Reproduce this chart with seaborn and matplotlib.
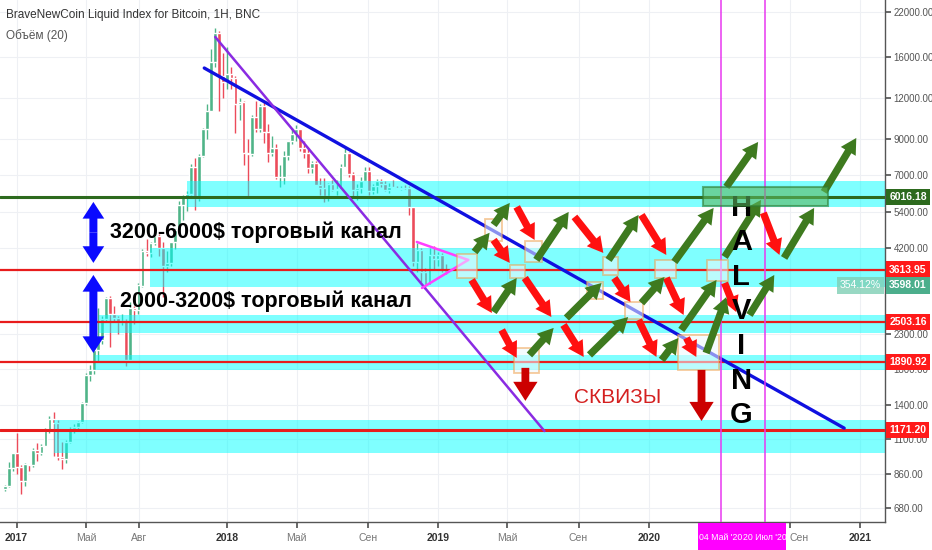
import numpy as np
import pandas as pd
import matplotlib
matplotlib.use("Agg")
import matplotlib.pyplot as plt
import matplotlib.dates as mdates
from matplotlib.patches import Rectangle
from matplotlib.ticker import FixedLocator, NullLocator
import seaborn as sns

sns.set_theme(style="white")
plt.rcParams['font.family'] = ['Liberation Sans', 'DejaVu Sans']

# weekly candles of the BNC index
week_start = pd.date_range('2016-12-12', '2019-01-14', freq='W-MON')
first_open = 774
closes = [790, 896, 998, 905, 820, 920, 915, 1020, 995, 1050,
          1175, 1270, 1230, 970, 960, 1080, 1180, 1200, 1240, 1420,
          1720, 1780, 2050, 2200, 2550, 2950, 2650, 2580, 2500, 2510,
          1920, 2750, 2730, 3230, 4100, 4050, 4350, 4580, 4200, 3700,
          3780, 4390, 4770, 5700, 6000, 6150, 7400, 5950, 8000, 9700,
          11000, 15500, 19000, 14000, 13500, 14200, 13800, 11500, 11700, 8200,
          8100, 10500, 9650, 11400, 9500, 8200, 8500, 6900, 6900, 8000,
          8900, 9350, 9650, 8500, 8200, 7350, 7650, 6550, 6400, 6050,
          6600, 6300, 6350, 7400, 8200, 7050, 6300, 6400, 6700, 7200,
          6250, 6500, 6700, 6600, 6300, 6450, 6400, 6350, 6400, 6380,
          5600, 3800, 4150, 3550, 3250, 4000, 3900, 4000, 3600, 3550]
highs = [795, 935, 1000, 1150, 915, 930, 925, 1030, 1070, 1060,
         1190, 1290, 1330, 1260, 1080, 1090, 1200, 1220, 1250, 1430,
         1750, 1850, 2100, 2760, 2600, 2980, 3000, 2800, 2600, 2650,
         2560, 2880, 2800, 3280, 4180, 4480, 4390, 4980, 4650, 4380,
         4120, 4390, 4800, 5850, 6100, 6250, 7600, 7880, 8100, 9750,
         11500, 17000, 19700, 19300, 16500, 17200, 15000, 14000, 12000, 11800,
         9000, 10700, 11800, 11500, 11700, 10000, 9200, 8700, 7500, 8300,
         8900, 9750, 9950, 9700, 8900, 8500, 7750, 7750, 6850, 6850,
         6650, 6750, 6750, 7600, 8450, 8250, 7150, 6600, 6900, 7400,
         7400, 6600, 6800, 6800, 6700, 6650, 6750, 6500, 6500, 6550,
         6500, 5600, 4350, 4200, 3650, 4200, 4250, 4100, 4050, 3750]
lows = [765, 788, 880, 860, 750, 790, 880, 905, 945, 985,
        1045, 1150, 980, 950, 890, 930, 1070, 1150, 1180, 1230,
        1400, 1650, 1740, 1900, 2150, 2500, 2100, 2500, 2300, 2450,
        1840, 1900, 2460, 2650, 3200, 3980, 3950, 4300, 3980, 2970,
        3550, 3700, 4170, 4770, 5100, 5450, 6100, 5500, 5850, 7950,
        9000, 11000, 15000, 11000, 12000, 12800, 12800, 9400, 10300, 7500,
        6000, 8000, 9500, 9500, 8800, 7700, 8000, 6800, 6450, 6600,
        7800, 8700, 8900, 8300, 7900, 7100, 7100, 6550, 6100, 5800,
        5850, 6250, 6100, 6350, 7400, 6900, 6000, 5900, 6200, 6700,
        6100, 6150, 6200, 6450, 6250, 6200, 6400, 6350, 6300, 6350,
        5300, 3700, 3550, 3300, 3150, 3250, 3600, 3700, 3550, 3500]

# horizontal levels
levels = [6016.18, 3613.95, 2503.16, 1890.92, 1171.20]
level_colors = ['#2d6a1e', '#e81c1c', '#e81c1c', '#e81c1c', '#e81c1c']

# cyan zones
zone_start = ['2017-10-23', '2017-08-20', '2017-05-24', '2017-05-17', '2017-03-07']
zone_low = [5600, 3200, 2316, 1786, 998]
zone_high = [6720, 4200, 2628, 1985, 1259]

# trend lines
blue_dates, blue_prices = ['2017-11-22', '2020-12-04'], [14850, 1188]
purple_dates, purple_prices = ['2017-12-11', '2019-07-04'], [18460, 1164]
pink_up_dates, pink_up_prices = ['2018-11-25', '2019-02-22'], [4385, 3865]
pink_lo_dates, pink_lo_prices = ['2018-12-04', '2019-02-22'], [3175, 3865]

# orange boxes
box_x0 = ['2019-02-02', '2019-03-23', '2019-05-05', '2019-05-31', '2019-05-12', '2019-09-15',
          '2019-10-13', '2019-11-21', '2020-01-12', '2020-02-21', '2020-04-11']
box_x1 = ['2019-03-10', '2019-04-21', '2019-06-01', '2019-06-29', '2019-06-24', '2019-10-13',
          '2019-11-09', '2019-12-21', '2020-02-16', '2020-05-02', '2020-05-16']
box_low = [3406, 4416, 3406, 3811, 1750, 2938, 3478, 2554, 3406, 1787, 3335]
box_high = [4030, 5154, 3732, 4416, 2084, 3312, 3947, 2878, 3865, 2284, 3865]
target_dates, target_prices = ['2020-04-04', '2020-11-06'], [5645, 6448]

# arrows: (from date, from price, to date, to price)
red_arrows = [('2019-02-28', 3359, '2019-04-04', 2664), ('2019-04-07', 4447, '2019-05-05', 3785),
              ('2019-05-17', 5606, '2019-06-17', 4447), ('2019-05-31', 3406, '2019-07-16', 2590),
              ('2019-04-21', 2365, '2019-05-17', 1944), ('2019-08-06', 2450, '2019-09-10', 1957),
              ('2019-08-25', 5227, '2019-10-14', 4059), ('2019-11-02', 3406, '2019-11-30', 2878),
              ('2019-12-19', 5300, '2020-01-31', 4002), ('2019-12-14', 2537, '2020-01-14', 1957),
              ('2020-01-31', 3406, '2020-03-01', 2627), ('2020-03-06', 2236, '2020-03-23', 1957),
              ('2020-05-11', 3289, '2020-05-31', 2682), ('2020-07-17', 5375, '2020-08-14', 4002)]
green_arrows = [('2019-03-05', 4087, '2019-03-31', 4676), ('2019-04-07', 4942, '2019-05-05', 5765),
                ('2019-04-07', 2682, '2019-05-17', 3406), ('2019-06-20', 3865, '2019-08-15', 5413),
                ('2019-06-08', 1985, '2019-07-20', 2399), ('2019-08-11', 2572, '2019-10-11', 3289),
                ('2019-09-20', 1985, '2019-11-26', 2590), ('2019-10-23', 3865, '2019-12-14', 5300),
                ('2019-12-19', 2858, '2020-01-28', 3430), ('2020-01-23', 1916, '2020-02-21', 2236),
                ('2020-02-26', 2365, '2020-04-27', 3359), ('2020-02-14', 3811, '2020-04-22', 5567),
                ('2020-04-09', 2012, '2020-05-14', 2979), ('2020-05-14', 6448, '2020-07-08', 8841),
                ('2020-05-11', 3947, '2020-07-13', 5887), ('2020-06-23', 2627, '2020-08-05', 3478),
                ('2020-08-22', 3919, '2020-10-13', 5567), ('2020-10-30', 6227, '2020-12-25', 9093)]
squeeze_arrows = [('2019-06-01', 1813, '2019-06-01', 1438), ('2020-04-01', 1787, '2020-04-01', 1249)]
channel_arrows = [('2017-05-14', 5805, 3785), ('2017-05-14', 3478, 2012)]

halving_dates = ['2020-05-04', '2020-07-20']
halving_labels = ["04 Май '20", "20 Июл '20"]

price_ticks = [680, 860, 1100, 1400, 1800, 2300, 4200, 5400, 7000, 9000, 12000, 16000, 22000]
date_ticks = ['2017-01-01', '2017-05-01', '2017-08-01', '2018-01-01', '2018-05-01', '2018-09-01',
              '2019-01-01', '2019-05-01', '2019-09-01', '2020-01-01', '2020-09-01', '2021-01-01']
date_labels = ['2017', 'Май', 'Авг', '2018', 'Май', 'Сен', '2019', 'Май', 'Сен', '2020', 'Сен', '2021']

price_tags = [6016.18, 3613.95, 3598.01, 2503.16, 1890.92, 1171.20]
tag_colors = ['#2d6a1e', '#ff1a1a', '#4cae8c', '#ff1a1a', '#ff1a1a', '#ff1a1a']
tag_shift = [0, 0, -11, 0, 0, 0]


def d(s):
    return mdates.date2num(pd.Timestamp(s))


fig = plt.figure(figsize=(9.32, 5.5), dpi=100)
ax = fig.add_axes([0, 28 / 550, 885 / 932, 522 / 550])
ax.set_yscale('log')

# candles
x = mdates.date2num(week_start)
c = np.array(closes, dtype=float)
o = np.concatenate([[first_open], c[:-1]])
up = c >= o
col = np.where(up, '#4fb488', '#ec4b5a')
ax.vlines(x, lows, highs, colors=col, lw=1.0, zorder=1)
ax.bar(x, np.abs(c - o) + 1, bottom=np.minimum(o, c), width=6.5, color=col, zorder=1)

# zones
x_end = d('2021-03-01')
for s, lo, hi in zip(zone_start, zone_low, zone_high):
    ax.add_patch(Rectangle((d(s), lo), x_end - d(s), hi - lo, fc='#00ffff', alpha=0.5, ec='none', zorder=2))

for lv, lc in zip(levels, level_colors):
    ax.axhline(lv, color=lc, lw=2.2 if lv in (6016.18, 1171.20) else 1.6, zorder=3)

# trend lines
for dd, pp, cc, w in [(blue_dates, blue_prices, '#1010e0', 2.4),
                      (purple_dates, purple_prices, '#8a2be2', 1.8),
                      (pink_up_dates, pink_up_prices, '#ff40ff', 1.8),
                      (pink_lo_dates, pink_lo_prices, '#ff40ff', 1.8)]:
    sns.lineplot(x=[d(v) for v in dd], y=pp, ax=ax, color=cc, lw=w, zorder=4)

for hd in halving_dates:
    ax.axvline(d(hd), color='#e838f0', lw=1.1, zorder=4)

# boxes
for a, b, lo, hi in zip(box_x0, box_x1, box_low, box_high):
    ax.add_patch(Rectangle((d(a), lo), d(b) - d(a), hi - lo, fc='#eef8fc', alpha=0.55,
                           ec='#f0a04b', lw=1.3, zorder=5))
ax.add_patch(Rectangle((d(target_dates[0]), target_prices[0]), d(target_dates[1]) - d(target_dates[0]),
                       target_prices[1] - target_prices[0], fc='#5cb860', alpha=0.6, ec='#2e7d32',
                       lw=1.5, zorder=7))


def arrow(x0, y0, x1, y1, color, hw=1.0, hl=0.9, tw=0.42, ms=12.5):
    ax.annotate('', xy=(x1, y1), xytext=(x0, y0),
                arrowprops=dict(arrowstyle=f'simple,head_length={hl},head_width={hw},tail_width={tw}',
                                fc=color, ec='none', mutation_scale=ms, shrinkA=0, shrinkB=0),
                zorder=6)


for a, p0, b, p1 in red_arrows:
    arrow(d(a), p0, d(b), p1, '#ff1010')
for a, p0, b, p1 in green_arrows:
    arrow(d(a), p0, d(b), p1, '#3e7a1f')
for a, p0, b, p1 in squeeze_arrows:
    arrow(d(a), p0, d(b), p1, '#cc0000', hw=1.4, hl=1.1, tw=0.45)
for a, top, bot in channel_arrows:
    mid = np.sqrt(top * bot)
    arrow(d(a), mid, d(a), top, '#0a0aff', hw=1.3, hl=1.0, tw=0.48, ms=12)
    arrow(d(a), mid, d(a), bot, '#0a0aff', hw=1.3, hl=1.0, tw=0.48, ms=12)

# texts
ax.text(d('2017-06-12'), 4510, '3200-6000$ торговый канал', fontsize=15.5, fontweight='bold',
        color='black', va='baseline', ha='left', zorder=8)
ax.text(d('2017-06-29'), 2780, '2000-3200$ торговый канал', fontsize=15.5, fontweight='bold',
        color='black', va='baseline', ha='left', zorder=8)
ax.text(d('2019-08-25'), 1418, 'СКВИЗЫ', fontsize=15, color='#d42020', va='baseline', ha='left', zorder=8)
ax.text(d('2020-06-09'), 2693, '\n'.join('HALVING'), fontsize=21, fontweight='bold', color='black',
        ha='center', va='center', linespacing=1.3, zorder=6)

ax.text(6 / 885, 1 - 15 / 522, 'BraveNewCoin Liquid Index for Bitcoin, 1H, BNC', transform=ax.transAxes,
        fontsize=8.5, color='#333333', va='center', ha='left')
ax.text(6 / 885, 1 - 36 / 522, 'Объём (20)', transform=ax.transAxes,
        fontsize=8.5, color='#555555', va='center', ha='left')

# axes
ax.set_xlim(d('2016-12-03 07:00'), d('2021-02-12 17:00'))
ax.set_ylim(615, 23930)
ax.yaxis.tick_right()
ax.yaxis.set_major_locator(FixedLocator(price_ticks))
ax.yaxis.set_minor_locator(NullLocator())
ax.set_yticklabels([f'{v:.2f}' for v in price_ticks])
ax.set_xticks([d(v) for v in date_ticks])
ax.set_xticklabels(date_labels)
xlabs = ax.get_xticklabels()
for lab in xlabs:
    if lab.get_text().isdigit():
        lab.set_fontweight('bold')
        lab.set_color('#333333')
    else:
        lab.set_color('#777777')
xlabs[10].set_ha('left')
ax.tick_params(axis='y', length=4, color='#555555', labelsize=7, labelcolor='#555555', pad=2, right=True)
ax.tick_params(axis='x', length=4, color='#555555', labelsize=7.5, pad=4, bottom=True)
ax.set_xlabel('')
ax.set_ylabel('')
ax.grid(True, color='#eef0f4', lw=0.8)
ax.set_axisbelow(True)
for s in ['top', 'left']:
    ax.spines[s].set_visible(False)
for s in ['right', 'bottom']:
    ax.spines[s].set_color('#555555')
    ax.spines[s].set_linewidth(1)

# price tags on the axis
for p, tc, sh in zip(price_tags, tag_colors, tag_shift):
    ax.annotate(f'{p:.2f}', xy=(1, p), xycoords=ax.get_yaxis_transform(), xytext=(3, sh),
                textcoords='offset points', ha='left', va='center', fontsize=7.5, color='white',
                fontweight='bold', bbox=dict(boxstyle='square,pad=0.3', fc=tc, ec='none'),
                annotation_clip=False, zorder=10)
ax.annotate('354.12%', xy=(1, 3598.01), xycoords=ax.get_yaxis_transform(), xytext=(-3, -11),
            textcoords='offset points', ha='right', va='center', fontsize=7.5, color='white',
            bbox=dict(boxstyle='square,pad=0.3', fc='#7fcfb5', ec='none', alpha=0.8),
            annotation_clip=False, zorder=10)

# halving date tags on the time axis
ax.add_patch(Rectangle((d('2020-03-26'), -0.053), d('2020-08-26') - d('2020-03-26'), 0.052,
                       transform=ax.get_xaxis_transform(), fc='#ff00ff', ec='none',
                       clip_on=False, zorder=9))
for hd, hl in zip(halving_dates, halving_labels):
    ax.text(d(hd), -0.029, hl, transform=ax.get_xaxis_transform(), ha='center', va='center',
            fontsize=6.3, color='white', zorder=10, clip_on=False)

fig.savefig('out.png', dpi=100)
